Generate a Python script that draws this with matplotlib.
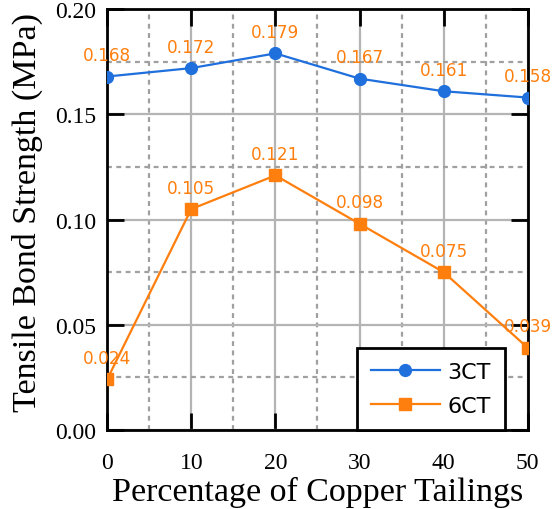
import numpy as np
import matplotlib.pyplot as plt
from matplotlib.ticker import MultipleLocator

# data
pct = [0, 10, 20, 30, 40, 50]
ct3 = [0.168, 0.172, 0.179, 0.167, 0.161, 0.158]
ct6 = [0.024, 0.105, 0.121, 0.098, 0.075, 0.039]

blue = '#1f6fdc'
orange = '#ff7f0e'

fig = plt.figure(figsize=(5.55, 5.10), dpi=100)
ax = fig.add_axes([0.193, 0.155, 0.758, 0.825])

ax.plot(pct, ct3, '-o', color=blue, lw=1.6, ms=8.5, label='3CT', zorder=3)
ax.plot(pct, ct6, '-s', color=orange, lw=1.6, ms=8, label='6CT', zorder=3)

for x, y in zip(pct, ct3):
    ax.annotate(f'{y:.3f}', (x, y), xytext=(0, 9), textcoords='offset points',
                ha='center', va='bottom', color=orange, fontsize=12.2, family='DejaVu Sans')
for x, y in zip(pct, ct6):
    ax.annotate(f'{y:.3f}', (x, y), xytext=(0, 9), textcoords='offset points',
                ha='center', va='bottom', color=orange, fontsize=12.2, family='DejaVu Sans')

ax.set_xlim(0, 50)
ax.set_ylim(0, 0.20)
ax.xaxis.set_major_locator(MultipleLocator(10))
ax.xaxis.set_minor_locator(MultipleLocator(5))
ax.yaxis.set_major_locator(MultipleLocator(0.05))
ax.yaxis.set_minor_locator(MultipleLocator(0.025))
ax.yaxis.set_major_formatter(lambda v, p: f'{v:.2f}')

ax.grid(which='major', color='#b4b4b4', lw=1.6, ls='-')
ax.grid(which='minor', color='#a0a0a0', lw=1.6, ls=(0, (2.2, 2.0)))
ax.tick_params(which='major', direction='in', length=12, width=2, top=True, right=True,
               labelsize=17, pad=8)
ax.tick_params(axis='x', which='major', pad=16)
ax.tick_params(which='minor', length=0)
for s in ax.spines.values():
    s.set_linewidth(2)

for lab in ax.get_xticklabels() + ax.get_yticklabels():
    lab.set_family('Liberation Serif')

ax.set_xlabel('Percentage of Copper Tailings', family='Liberation Serif', fontsize=24.5, labelpad=2)
ax.set_ylabel('Tensile Bond Strength (MPa)', family='Liberation Serif', fontsize=24.5)
ax.yaxis.set_label_coords(-0.153, 0.52)

leg = ax.legend(loc='lower right', bbox_to_anchor=(0.945, 0.0), fancybox=False,
                edgecolor='black', framealpha=1, handlelength=3.1, handletextpad=0.35,
                borderpad=0.62, labelspacing=0.65, borderaxespad=0.0,
                prop={'family': 'DejaVu Sans', 'size': 16})
leg.get_frame().set_linewidth(2)

fig.savefig('out.png', dpi=100)
